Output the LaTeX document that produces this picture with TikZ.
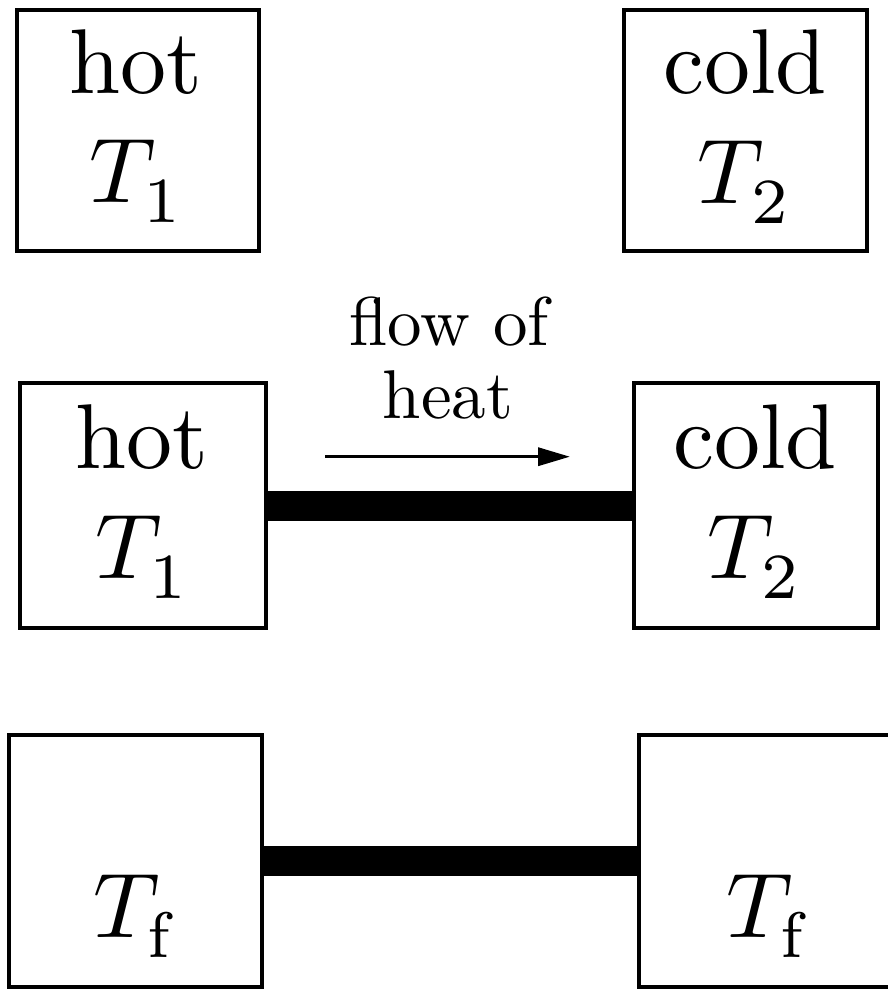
\documentclass[tikz,border=0pt]{standalone}
\usepackage{graphicx}
\usetikzlibrary{arrows.meta}
\newcommand{\bigtxt}[1]{\scalebox{9.2}{#1}}
\newcommand{\midtxt}[1]{\scalebox{6.9}{#1}}
\newcommand{\Tsub}[1]{$T_{\lower0.7pt\hbox{$\scriptstyle #1$}}$}
\begin{document}
\begin{tikzpicture}[x=1pt,y=-1pt,
  box/.style={draw, line width=4pt, inner sep=0pt, minimum width=#1},
  bar/.style={line width=30pt},
  flowarrow/.style={line width=3.5pt, -{Triangle[length=32pt,width=18pt]}},
  big/.style={inner sep=0pt, anchor=base},
  mid/.style={inner sep=0pt, anchor=base}]
\useasboundingbox[fill=white] (0,0) rectangle (888,989);
% top row
\node[box=242pt, minimum height=241pt] (A) at (137.5,130) {};
\node[box=243pt, minimum height=241pt] (B) at (745,130) {};
\node[big] (At1) at (136,93) {\bigtxt{hot}};
\node[big] (At2) at (137,202) {\bigtxt{\Tsub{1}}};
\node[big] (Bt1) at (745,93) {\bigtxt{cold}};
\node[big] (Bt2) at (745,203) {\bigtxt{\Tsub{2}}};
% middle row
\node[box=246pt, minimum height=245pt] (C) at (143,505.8) {};
\node[box=244pt, minimum height=245pt] (D) at (755.5,505.8) {};
\node[big] (Ct1) at (142,468) {\bigtxt{hot}};
\node[big] (Ct2) at (143,578) {\bigtxt{\Tsub{1}}};
\node[big] (Dt1) at (755,468) {\bigtxt{cold}};
\node[big] (Dt2) at (755,578) {\bigtxt{\Tsub{2}}};
\draw[bar] (C.east) -- (D.west);
\coordinate (f1) at (325,456.7);
\coordinate (f2) at (570,456.7);
\draw[flowarrow] (f1) -- (f2);
\node[mid] (L1) at (449,345) {\midtxt{flow of}};
\node[mid] (L2) at (448,418) {\midtxt{heat}};
% bottom row
\node[box=252.7pt, minimum height=251.7pt] (E) at (135.3,860.8) {};
\node[box=252pt, minimum height=251.7pt] (F) at (765,860.8) {};
\node[big] (Et) at (137,937) {\bigtxt{\Tsub{\mathrm{f}}}};
\node[big] (Ft) at (770,937) {\bigtxt{\Tsub{\mathrm{f}}}};
\draw[bar] (E.east) -- (F.west);
\end{tikzpicture}
\end{document}
